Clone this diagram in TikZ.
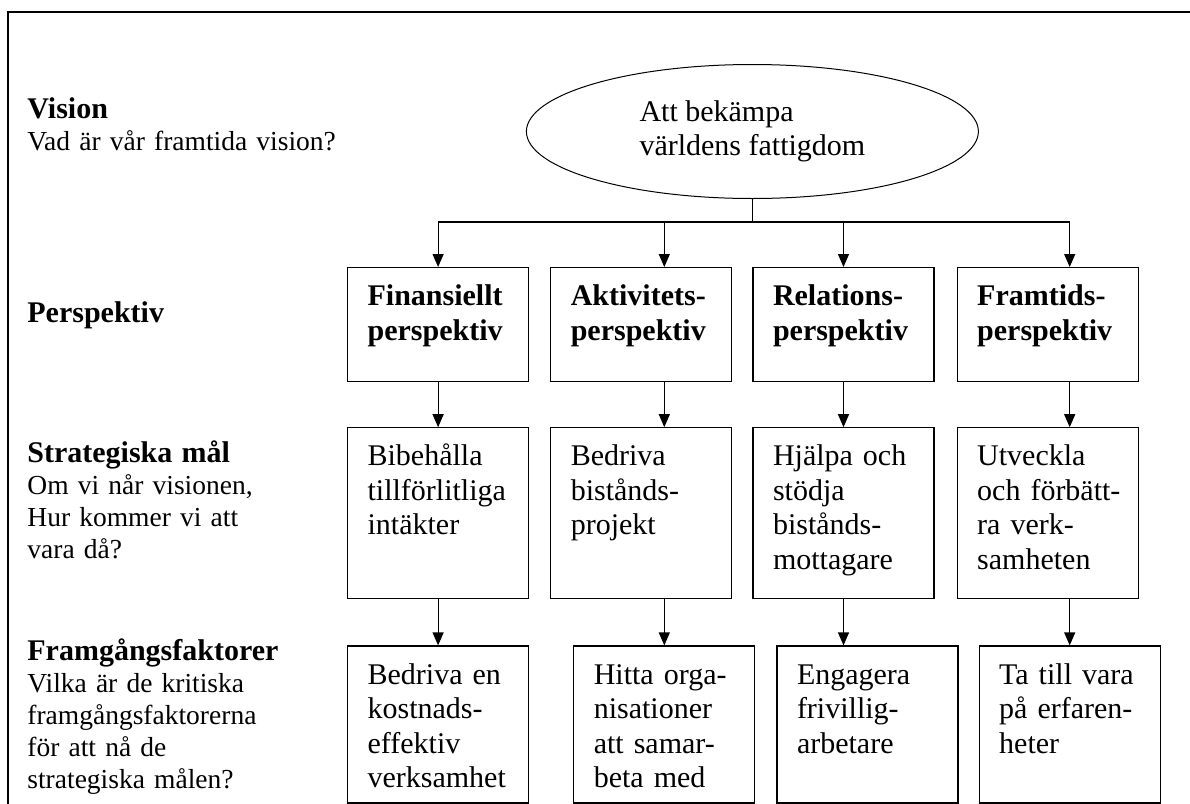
\documentclass[tikz,border=0pt]{standalone}
\usepackage{fontspec}
\setmainfont{Liberation Serif}
\usetikzlibrary{arrows.meta,positioning,shapes.geometric}
\newcommand{\rowhead}[1]{{\fontsize{15}{16}\selectfont\bfseries #1}}
\tikzset{box/.style={draw,line width=.6pt,rectangle,align=left,text width=70.5pt,inner xsep=10pt,inner ysep=0pt,text height=19pt,font=\fontsize{15}{17.25}\selectfont},perbox/.style={box,text depth=38pt,font=\fontsize{15}{17.25}\selectfont\bfseries},goalbox/.style={box,text depth=66.5pt},factbox/.style={box,text depth=59.5pt},vision/.style={ellipse,draw,line width=.5pt,minimum width=226pt,minimum height=67pt,align=left,inner sep=0pt,font=\fontsize{15}{17.25}\selectfont},rowlabel/.style={anchor=base west,inner sep=0pt,align=left,text width=170pt,font=\fontsize{13.75}{16}\selectfont},flow/.style={-{Triangle[length=6.5pt,width=5.5pt]},line width=.6pt},link/.style={line width=.6pt}}

\begin{document}
\begin{tikzpicture}
      \useasboundingbox (0,0) rectangle (595pt,-402pt);
      \draw[line width=1pt](595pt,-6pt)--(4pt,-6pt)--(4pt,-402pt);
      % row labels
      \node[rowlabel](lvis) at (13.5pt,-59pt){\rowhead{Vision}\\Vad är vår framtida vision?};
      \node[rowlabel](lper) at (13.5pt,-161pt){\rowhead{Perspektiv}};
      \node[rowlabel](lmal) at (13.5pt,-231pt){\rowhead{Strategiska mål}\\Om vi når visionen,\\Hur kommer vi att\\vara då?};
      \node[rowlabel](lfak) at (13.5pt,-330pt){\rowhead{Framgångsfaktorer}\\Vilka är de kritiska\\framgångsfaktorerna\\för att nå de\\strategiska målen?};
      % perspektiv
      \node[perbox,anchor=north west](p1) at (173.5pt,-133.5pt){Finansiellt\\perspektiv};
      \node[perbox,right=10.5pt of p1](p2){Aktivitets-\\perspektiv};
      \node[perbox,right=10pt of p2](p3){Relations-\\perspektiv};
      \node[perbox,right=11pt of p3](p4){Framtids-\\perspektiv};
      % strategiska mal
      \node[goalbox,below=22.5pt of p1](s1){Bibehålla\\tillförlitliga\\intäkter};
      \node[goalbox,below=22.5pt of p2](s2){Bedriva\\bistånds-\\projekt};
      \node[goalbox,below=22.5pt of p3](s3){Hjälpa och\\stödja\\bistånds-\\mottagare};
      \node[goalbox,below=22.5pt of p4](s4){Utveckla\\\mbox{och förbätt-}\\ra verk-\\samheten};
      % framgangsfaktorer
      \node[factbox,below=23pt of s1](r1){Bedriva en\\kostnads-\\effektiv\\verksamhet};
      \node[factbox,right=22pt of r1](r2){Hitta orga-\\nisationer\\att samar-\\beta med};
      \node[factbox,right=10.5pt of r2](r3){Engagera\\frivillig-\\arbetare};
      \node[factbox,right=10pt of r3](r4){Ta till vara\\på erfaren-\\heter};
      % vision
      \node[vision,above=34pt of p3.north west](vis){Att bekämpa\\världens fattigdom};
      \coordinate[below=11.5pt of vis.south](fork);
      \draw[link](vis.south)--(fork);
      \draw[link](p1.north|-fork)--(r4.north|-fork);
      \draw[flow](p1.north|-fork)--(p1.north);\draw[flow](r2.north|-fork)--(p2.north-|r2.north);
      \draw[flow](p3.north|-fork)--(p3.north);\draw[flow](r4.north|-fork)--(p4.north-|r4.north);
      \draw[flow](p1)--(s1);\draw[flow](p2.south-|r2.north)--(s2.north-|r2.north);
      \draw[flow](p3)--(s3);\draw[flow](p4.south-|r4.north)--(s4.north-|r4.north);
      \draw[flow](s1)--(r1);\draw[flow](s2.south-|r2.north)--(r2.north);
      \draw[flow](s3.south-|p3.north)--(r3.north-|p3.north);\draw[flow](s4.south-|r4.north)--(r4.north);
    \end{tikzpicture}
\end{document}
